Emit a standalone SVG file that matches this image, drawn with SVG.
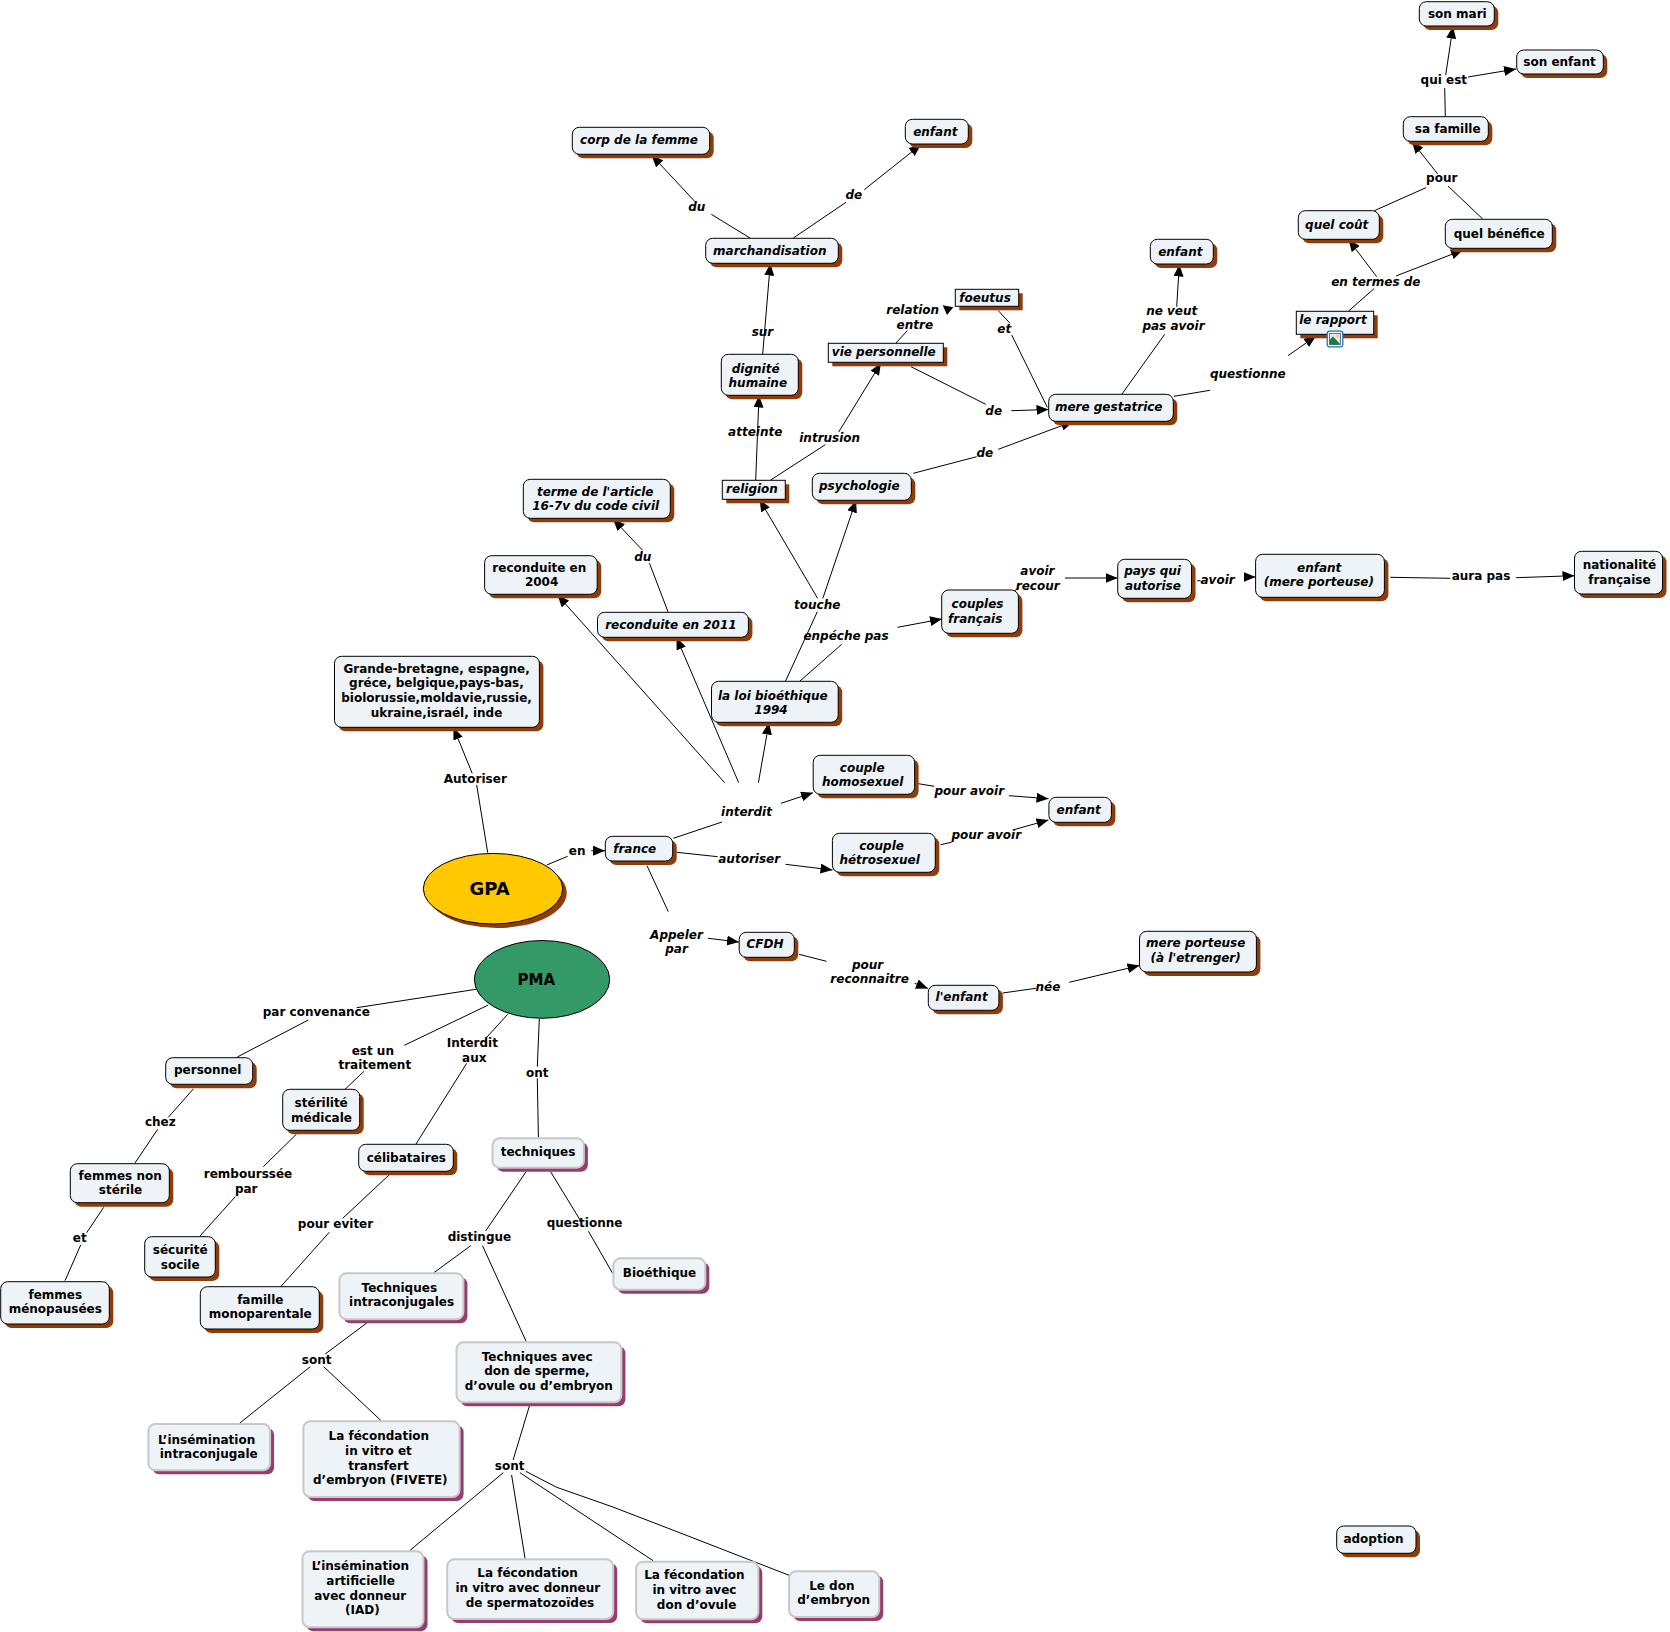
<svg xmlns="http://www.w3.org/2000/svg" width="1670" height="1632" viewBox="0 0 1670 1632">
<style>
text{font-family:"DejaVu Sans","Liberation Sans",sans-serif;font-size:12px;font-weight:bold;text-anchor:middle;fill:#000;transform:translateY(-.3px)}
#labels text{transform:none}
.i{font-style:italic}
.bx{fill:#edf3f6;stroke:#000;stroke-width:1}
.pb{fill:#edf3f6;stroke:#c8c8c8;stroke-width:2}
.sh{fill:#8f3c0a}
.ps{fill:#963c6e}
.r{rx:7px;ry:7px}
#connectors line,#connectors polyline{stroke:#000;stroke-width:1;fill:none}
.a{marker-end:url(#ah)}
</style>
<defs><marker id="ah" viewBox="0 0 12 10" refX="12" refY="5" markerWidth="12" markerHeight="10" markerUnits="userSpaceOnUse" orient="auto"><path d="M0 0L12 5L0 10Z" fill="#000"/></marker></defs>
<g id="connectors">
<line x1="1445.3" y1="116" x2="1444.7" y2="88"/>
<line class="a" x1="1445.7" y1="75" x2="1453" y2="26.5"/>
<line class="a" x1="1468" y1="77" x2="1516" y2="69"/>
<line x1="1374.3" y1="210.7" x2="1426" y2="187.7"/>
<line x1="1482.7" y1="219" x2="1448" y2="186"/>
<line class="a" x1="1437.7" y1="174" x2="1412" y2="141.5"/>
<line x1="1348.3" y1="311.3" x2="1374" y2="288.7"/>
<line class="a" x1="1376.7" y1="276.7" x2="1348.5" y2="239.5"/>
<line class="a" x1="1396" y1="276" x2="1463" y2="250"/>
<line class="a" x1="1288" y1="355.7" x2="1316" y2="336"/>
<line x1="750" y1="238" x2="711.3" y2="214.3"/>
<line class="a" x1="695" y1="201.7" x2="651.5" y2="155"/>
<line x1="793.3" y1="238" x2="846" y2="202.3"/>
<line class="a" x1="864.3" y1="189.7" x2="921" y2="144.5"/>
<line class="a" x1="762.7" y1="354" x2="770.3" y2="263.5"/>
<line class="a" x1="755.7" y1="480" x2="759" y2="395.5"/>
<line x1="770.7" y1="480" x2="825.3" y2="444.7"/>
<line class="a" x1="838.7" y1="432" x2="881" y2="363"/>
<line x1="896" y1="343" x2="907.3" y2="330.7"/>
<polygon points="942.7,305.3 953.3,307.3 947,315" fill="#000"/>
<line x1="998.3" y1="310.7" x2="1010" y2="323.3"/>
<line x1="1011.7" y1="335" x2="1047.3" y2="407.3"/>
<line x1="911" y1="366.7" x2="985.7" y2="404.3"/>
<line class="a" x1="1011.3" y1="410.7" x2="1048.5" y2="409.5"/>
<line x1="1122" y1="394" x2="1164.7" y2="334.3"/>
<line class="a" x1="1176.7" y1="306.7" x2="1179.3" y2="264.5"/>
<line x1="1174" y1="396.3" x2="1210" y2="390.3"/>
<line x1="913.3" y1="473.3" x2="976.7" y2="456.7"/>
<line class="a" x1="998.3" y1="449.3" x2="1073" y2="421.5"/>
<line x1="668.1" y1="612" x2="649.5" y2="563.3"/>
<line class="a" x1="642.3" y1="550" x2="613" y2="519"/>
<line class="a" x1="724.6" y1="782.7" x2="557.5" y2="595"/>
<line class="a" x1="738.7" y1="782.7" x2="676.5" y2="637.5"/>
<line class="a" x1="758.4" y1="782.7" x2="769" y2="722.5"/>
<line x1="785.6" y1="681" x2="817.3" y2="611.7"/>
<line class="a" x1="822.8" y1="598.3" x2="856" y2="500.5"/>
<line class="a" x1="817.6" y1="598.3" x2="759.5" y2="499.5"/>
<line x1="800" y1="681" x2="841.7" y2="644.3"/>
<line class="a" x1="897.5" y1="627.3" x2="942" y2="619"/>
<line x1="487.7" y1="852.7" x2="476.7" y2="785"/>
<line class="a" x1="472.2" y1="773.3" x2="453.5" y2="727.5"/>
<line x1="673.3" y1="838.3" x2="722" y2="822"/>
<line class="a" x1="781" y1="803.3" x2="813" y2="792.7"/>
<line x1="918.3" y1="783.7" x2="934.2" y2="786.3"/>
<line class="a" x1="1008.9" y1="795.7" x2="1048.5" y2="798.7"/>
<line x1="940.5" y1="844.7" x2="951.6" y2="842.3"/>
<line class="a" x1="1015.2" y1="829.3" x2="1048.5" y2="820"/>
<line x1="676.7" y1="852.3" x2="717.7" y2="856.7"/>
<line class="a" x1="785.5" y1="864.3" x2="832.5" y2="870"/>
<line x1="647" y1="865.7" x2="668.3" y2="911.7"/>
<line class="a" x1="708" y1="938.3" x2="739" y2="942"/>
<line x1="546.7" y1="865" x2="567.7" y2="856.3"/>
<line class="a" x1="591.3" y1="850.7" x2="605" y2="850.7"/>
<line x1="799.1" y1="954.3" x2="826.5" y2="961.3"/>
<line class="a" x1="914.6" y1="983.3" x2="928" y2="988.5"/>
<line x1="1002.6" y1="993" x2="1035.9" y2="988.3"/>
<line class="a" x1="1069.2" y1="982.3" x2="1139.5" y2="965.5"/>
<line x1="1014.4" y1="590.7" x2="1018.9" y2="588.3"/>
<line class="a" x1="1065" y1="578" x2="1117.7" y2="578"/>
<line x1="1197.2" y1="580.7" x2="1200.6" y2="580.7"/>
<line class="a" x1="1244.2" y1="577" x2="1255.6" y2="577"/>
<line x1="1390.2" y1="577.3" x2="1450.3" y2="578.3"/>
<line class="a" x1="1516.1" y1="577.7" x2="1574.5" y2="575.7"/>
<line x1="476" y1="989.3" x2="356.7" y2="1007.7"/>
<line x1="308.3" y1="1020" x2="237.3" y2="1057"/>
<line x1="488.3" y1="1005" x2="404.3" y2="1045.3"/>
<line x1="364" y1="1071.3" x2="345" y2="1089.3"/>
<line x1="507.7" y1="1014.3" x2="486.7" y2="1037.3"/>
<line x1="466.7" y1="1063.3" x2="416" y2="1144"/>
<line x1="539.3" y1="1019" x2="537.3" y2="1066.7"/>
<line x1="537.3" y1="1078.3" x2="538.4" y2="1137.7"/>
<line x1="193.3" y1="1089" x2="168.3" y2="1117.3"/>
<line x1="157.7" y1="1129.3" x2="135" y2="1163"/>
<line x1="103.7" y1="1207.3" x2="86.7" y2="1232.7"/>
<line x1="80.7" y1="1245" x2="65" y2="1280.7"/>
<line x1="296.3" y1="1134.3" x2="263.3" y2="1166.7"/>
<line x1="235.3" y1="1196.7" x2="200" y2="1236"/>
<line x1="388.7" y1="1175.3" x2="342.7" y2="1218.3"/>
<line x1="329.3" y1="1232.3" x2="281.3" y2="1286"/>
<line x1="526.1" y1="1171.7" x2="485.6" y2="1231"/>
<line x1="470.7" y1="1245.7" x2="433.9" y2="1272.7"/>
<line x1="482.5" y1="1245.7" x2="526.1" y2="1341.3"/>
<line x1="550.6" y1="1171.7" x2="580.1" y2="1220"/>
<line x1="588.5" y1="1231.3" x2="612.6" y2="1273.3"/>
<line x1="368.5" y1="1321.7" x2="325.2" y2="1354"/>
<line x1="310.3" y1="1366.7" x2="239.5" y2="1423.3"/>
<line x1="323.7" y1="1366.7" x2="381.1" y2="1420.7"/>
<line x1="529.6" y1="1405.3" x2="513.1" y2="1460"/>
<line x1="503.3" y1="1472.7" x2="409.6" y2="1550.7"/>
<line x1="511.6" y1="1475" x2="525.1" y2="1558.7"/>
<line x1="519.9" y1="1472.7" x2="653.1" y2="1560.7"/>
<polyline points="525.8,1471.3 556.7,1487.3 612,1506.7 675.3,1531 789.1,1575.3"/>
</g>
<g id="n-son-mari"><rect class="sh r" x="1423.3" y="5.7" width="75" height="24.3"/><rect class="bx r" x="1419.3" y="1.7" width="75" height="24.3"/><text x="1457.3" y="18.5">son mari</text></g>
<g id="n-son-enfant"><rect class="sh r" x="1520.7" y="54" width="86.6" height="24"/><rect class="bx r" x="1516.7" y="50" width="86.6" height="24"/><text x="1559.5" y="66.5">son enfant</text></g>
<g id="n-sa-famille"><rect class="sh r" x="1407.3" y="120.7" width="85" height="24.6"/><rect class="bx r" x="1403.3" y="116.7" width="85" height="24.6"/><text x="1447.7" y="133.5">sa famille</text></g>
<g id="n-quel-cout"><rect class="sh r" x="1302.3" y="214.7" width="81" height="28.6"/><rect class="bx r" x="1298.3" y="210.7" width="81" height="28.6"/><text class="i" x="1336.7" y="229.5">quel coût</text></g>
<g id="n-quel-benefice"><rect class="sh r" x="1449.3" y="223.3" width="107" height="29"/><rect class="bx r" x="1445.3" y="219.3" width="107" height="29"/><text x="1499.2" y="238.5">quel bénéfice</text></g>
<g id="n-le-rapport"><rect class="sh" x="1300.3" y="315.3" width="77.4" height="23"/><rect class="bx" x="1296.3" y="311.3" width="77.4" height="23"/><text class="i" x="1333" y="324.5">le rapport</text>
<rect x="1327.2" y="331.2" width="15.6" height="15.6" rx="2.5" fill="#fff" stroke="#1f6fd0" stroke-width="1.3"/><rect x="1329.5" y="333.5" width="11" height="11" fill="#dcebf7" stroke="#33424f" stroke-width=".7"/><circle cx="1337.5" cy="336" r="1.4" fill="#f5d33a"/><polygon points="1329.5,344.5 1329.5,340 1333,336.5 1340.5,344.5" fill="#1f7a34"/></g>
<g id="n-corp"><rect class="sh r" x="576.3" y="131.3" width="137.4" height="27"/><rect class="bx r" x="572.3" y="127.3" width="137.4" height="27"/><text class="i" x="639" y="144.5">corp de la femme</text></g>
<g id="n-enfant-1"><rect class="sh r" x="909.3" y="123.3" width="63" height="24.7"/><rect class="bx r" x="905.3" y="119.3" width="63" height="24.7"/><text class="i" x="935.3" y="136.5">enfant</text></g>
<g id="n-marchandisation"><rect class="sh r" x="709.7" y="242.3" width="132.6" height="25"/><rect class="bx r" x="705.7" y="238.3" width="132.6" height="25"/><text class="i" x="769.8" y="255.5">marchandisation</text></g>
<g id="n-dignite"><rect class="sh r" x="725.3" y="358.3" width="77" height="41"/><rect class="bx r" x="721.3" y="354.3" width="77" height="41"/><text class="i"><tspan x="755.7" y="373">dignité</tspan><tspan x="757.8" y="387.5">humaine</tspan></text></g>
<g id="n-vie"><rect class="sh" x="832.3" y="347.3" width="115" height="19"/><rect class="bx" x="828.3" y="343.3" width="115" height="19"/><text class="i" x="883.8" y="356.5">vie personnelle</text></g>
<g id="n-religion"><rect class="sh" x="726.3" y="484.3" width="63" height="19"/><rect class="bx" x="722.3" y="480.3" width="63" height="19"/><text class="i" x="752" y="493.5">religion</text></g>
<g id="n-psychologie"><rect class="sh r" x="816.3" y="477.3" width="99" height="27"/><rect class="bx r" x="812.3" y="473.3" width="99" height="27"/><text class="i" x="859.3" y="490.5">psychologie</text></g>
<g id="n-terme"><rect class="sh r" x="527.3" y="483.3" width="147" height="39"/><rect class="bx r" x="523.3" y="479.3" width="147" height="39"/><text class="i"><tspan x="595.2" y="496">terme de l'article</tspan><tspan x="595.7" y="510.5">16-7v du code civil</tspan></text></g>
<g id="n-foeutus"><rect class="sh" x="959.3" y="293.3" width="63.4" height="17"/><rect class="bx" x="955.3" y="289.3" width="63.4" height="17"/><text class="i" x="985" y="302.5">foeutus</text></g>
<g id="n-enfant-2"><rect class="sh r" x="1154.3" y="243.3" width="63" height="24.7"/><rect class="bx r" x="1150.3" y="239.3" width="63" height="24.7"/><text class="i" x="1180.3" y="256.5">enfant</text></g>
<g id="n-mere-gestatrice"><rect class="sh r" x="1052.7" y="398.3" width="124.6" height="27"/><rect class="bx r" x="1048.7" y="394.3" width="124.6" height="27"/><text class="i" x="1108.7" y="411.5">mere gestatrice</text></g>
<g id="n-reconduite-2004"><rect class="sh r" x="488.6" y="559.7" width="112.6" height="38.6"/><rect class="bx r" x="484.6" y="555.7" width="112.6" height="38.6"/><text><tspan x="539.3" y="572">reconduite en</tspan><tspan x="541.6" y="586.7">2004</tspan></text></g>
<g id="n-reconduite-2011"><rect class="sh r" x="601.5" y="616.3" width="150.9" height="25"/><rect class="bx r" x="597.5" y="612.3" width="150.9" height="25"/><text class="i" x="670.9" y="629">reconduite en 2011</text></g>
<g id="n-grande"><rect class="sh r" x="338.5" y="660.3" width="204.9" height="71"/><rect class="bx r" x="334.5" y="656.3" width="204.9" height="71"/><text><tspan x="436.6" y="673">Grande-bretagne, espagne,</tspan><tspan x="436.4" y="687.7">gréce, belgique,pays-bas,</tspan><tspan x="436.6" y="702.3">biolorussie,moldavie,russie,</tspan><tspan x="436.6" y="717">ukraine,israél, inde</tspan></text></g>
<g id="n-loi"><rect class="sh r" x="715.5" y="685.3" width="126.7" height="41"/><rect class="bx r" x="711.5" y="681.3" width="126.7" height="41"/><text class="i"><tspan x="772.8" y="700">la loi bioéthique</tspan><tspan x="771" y="714.3">1994</tspan></text></g>
<g id="n-couples-francais"><rect class="sh r" x="945.7" y="594" width="76.7" height="43.3"/><rect class="bx r" x="941.7" y="590" width="76.7" height="43.3"/><text class="i"><tspan x="977.5" y="608.3">couples</tspan><tspan x="975.2" y="623">français</tspan></text></g>
<g id="n-pays"><rect class="sh r" x="1121.7" y="563.3" width="73.8" height="39"/><rect class="bx r" x="1117.7" y="559.3" width="73.8" height="39"/><text class="i"><tspan x="1152.6" y="575.7">pays qui</tspan><tspan x="1152.9" y="590">autorise</tspan></text></g>
<g id="n-enfant-mere"><rect class="sh r" x="1259.6" y="558.3" width="128.8" height="43"/><rect class="bx r" x="1255.6" y="554.3" width="128.8" height="43"/><text class="i"><tspan x="1319.2" y="572">enfant</tspan><tspan x="1318.8" y="586.7">(mere porteuse)</tspan></text></g>
<g id="n-nationalite"><rect class="sh r" x="1578.5" y="555.3" width="88" height="42.7"/><rect class="bx r" x="1574.5" y="551.3" width="88" height="42.7"/><text><tspan x="1619.4" y="569.7">nationalité</tspan><tspan x="1619.4" y="584">française</tspan></text></g>
<g id="n-couple-homo"><rect class="sh r" x="817.2" y="759.3" width="101.4" height="39"/><rect class="bx r" x="813.2" y="755.3" width="101.4" height="39"/><text class="i"><tspan x="862.2" y="772">couple</tspan><tspan x="862.6" y="786.3">homosexuel</tspan></text></g>
<g id="n-enfant-3"><rect class="sh r" x="1052.9" y="801.3" width="62.5" height="25"/><rect class="bx r" x="1048.9" y="797.3" width="62.5" height="25"/><text class="i" x="1078.7" y="814">enfant</text></g>
<g id="n-couple-hetero"><rect class="sh r" x="836.4" y="837.3" width="102.9" height="39"/><rect class="bx r" x="832.4" y="833.3" width="102.9" height="39"/><text class="i"><tspan x="881.6" y="850">couple</tspan><tspan x="879.6" y="864.3">hétrosexuel</tspan></text></g>
<g id="n-cfdh"><rect class="sh r" x="743.2" y="936.3" width="55.1" height="25"/><rect class="bx r" x="739.2" y="932.3" width="55.1" height="25"/><text class="i" x="765" y="948.7">CFDH</text></g>
<g id="n-lenfant"><rect class="sh r" x="932.3" y="989.3" width="70.6" height="25"/><rect class="bx r" x="928.3" y="985.3" width="70.6" height="25"/><text class="i" x="961.6" y="1001.7">l'enfant</text></g>
<g id="n-mere-porteuse"><rect class="sh r" x="1143.5" y="935.3" width="116.9" height="40.7"/><rect class="bx r" x="1139.5" y="931.3" width="116.9" height="40.7"/><text class="i"><tspan x="1195.7" y="947.3">mere porteuse</tspan><tspan x="1195.7" y="962">(à l'etrenger)</tspan></text></g>
<g id="n-france"><rect class="sh r" x="609.3" y="840.3" width="67.4" height="24.7"/><rect class="bx r" x="605.3" y="836.3" width="67.4" height="24.7"/><text class="i" x="634.7" y="853.3">france</text></g>
<g id="n-gpa"><ellipse class="sh" cx="497" cy="892.7" rx="69.7" ry="35.3"/><ellipse cx="493" cy="888.7" rx="69.7" ry="35.3" fill="#ffc800" stroke="#000"/><text x="489.5" y="895" style="font-size:18px">GPA</text></g>
<g id="n-pma"><ellipse cx="542" cy="979.4" rx="67.7" ry="38.9" fill="#339966" stroke="#000"/><text x="536.3" y="985.3" style="font-size:15px">PMA</text></g>
<g id="n-personnel"><rect class="sh r" x="169.7" y="1061.7" width="87" height="26.6"/><rect class="bx r" x="165.7" y="1057.7" width="87" height="26.6"/><text x="207.7" y="1074.3">personnel</text></g>
<g id="n-sterilite"><rect class="sh r" x="286.7" y="1093.3" width="77" height="41"/><rect class="bx r" x="282.7" y="1089.3" width="77" height="41"/><text><tspan x="321.2" y="1107.7">stérilité</tspan><tspan x="321.5" y="1122.3">médicale</tspan></text></g>
<g id="n-femmes-non"><rect class="sh r" x="74.3" y="1167.7" width="99" height="39"/><rect class="bx r" x="70.3" y="1163.7" width="99" height="39"/><text><tspan x="120.2" y="1180">femmes non</tspan><tspan x="120.5" y="1194.7">stérile</tspan></text></g>
<g id="n-celibataires"><rect class="sh r" x="362.7" y="1148.3" width="94.6" height="27"/><rect class="bx r" x="358.7" y="1144.3" width="94.6" height="27"/><text x="406.3" y="1162.7">célibataires</text></g>
<g id="n-securite"><rect class="sh r" x="148.7" y="1240.7" width="70.6" height="40.3"/><rect class="bx r" x="144.7" y="1236.7" width="70.6" height="40.3"/><text><tspan x="180.2" y="1254.7">sécurité</tspan><tspan x="180.2" y="1269.3">socile</tspan></text></g>
<g id="n-menopausees"><rect class="sh r" x="4.7" y="1285.7" width="108.6" height="42.3"/><rect class="bx r" x=".7" y="1281.7" width="108.6" height="42.3"/><text><tspan x="55.3" y="1299">femmes</tspan><tspan x="55.3" y="1313.7">ménopausées</tspan></text></g>
<g id="n-famille"><rect class="sh r" x="204.3" y="1290.7" width="119" height="42.3"/><rect class="bx r" x="200.3" y="1286.7" width="119" height="42.3"/><text><tspan x="260.3" y="1304">famille</tspan><tspan x="260.3" y="1318.7">monoparentale</tspan></text></g>
<g id="n-techniques"><rect class="ps r" x="496.5" y="1142.3" width="91.4" height="29.4"/><rect class="pb r" x="492.5" y="1138.3" width="91.4" height="29.4"/><text x="538" y="1156">techniques</text></g>
<g id="n-bioethique"><rect class="ps r" x="617.4" y="1262.3" width="91.9" height="31.4"/><rect class="pb r" x="613.4" y="1258.3" width="91.9" height="31.4"/><text x="659.5" y="1277.7">Bioéthique</text></g>
<g id="n-t-intra"><rect class="ps r" x="343.4" y="1277.3" width="124" height="46"/><rect class="pb r" x="339.4" y="1273.3" width="124" height="46"/><text><tspan x="399.3" y="1292">Techniques</tspan><tspan x="401.6" y="1306.7">intraconjugales</tspan></text></g>
<g id="n-t-avec"><rect class="ps r" x="460.5" y="1346.3" width="164.9" height="60"/><rect class="pb r" x="456.5" y="1342.3" width="164.9" height="60"/><text><tspan x="537.2" y="1361">Techniques avec</tspan><tspan x="536.9" y="1375.7">don de sperme,</tspan><tspan x="538.8" y="1390.3">d’ovule ou d’embryon</tspan></text></g>
<g id="n-ins-intra"><rect class="ps r" x="152.4" y="1428" width="121.7" height="46.3"/><rect class="pb r" x="148.4" y="1424" width="121.7" height="46.3"/><text><tspan x="206.6" y="1444">L’insémination</tspan><tspan x="208.7" y="1458.3">intraconjugale</tspan></text></g>
<g id="n-fivete"><rect class="ps r" x="307.4" y="1425.3" width="156.2" height="75.7"/><rect class="pb r" x="303.4" y="1421.3" width="156.2" height="75.7"/><text><tspan x="378.8" y="1440.7">La fécondation</tspan><tspan x="378.4" y="1455.3">in vitro et</tspan><tspan x="378.4" y="1470">transfert</tspan><tspan x="380.3" y="1484.7">d’embryon (FIVETE)</tspan></text></g>
<g id="n-iad"><rect class="ps r" x="306.5" y="1555.3" width="121" height="76"/><rect class="pb r" x="302.5" y="1551.3" width="121" height="76"/><text><tspan x="360.4" y="1570.7">L’insémination</tspan><tspan x="360.6" y="1585.3">artificielle</tspan><tspan x="360.2" y="1600">avec donneur</tspan><tspan x="362.4" y="1614.7">(IAD)</tspan></text></g>
<g id="n-sperme"><rect class="ps r" x="451.2" y="1563.3" width="166" height="59.7"/><rect class="pb r" x="447.2" y="1559.3" width="166" height="59.7"/><text><tspan x="527.6" y="1577.7">La fécondation</tspan><tspan x="527.8" y="1592.3">in vitro avec donneur</tspan><tspan x="530" y="1607">de spermatozoïdes</tspan></text></g>
<g id="n-ovule"><rect class="ps r" x="640.1" y="1565.7" width="122.2" height="57.6"/><rect class="pb r" x="636.1" y="1561.7" width="122.2" height="57.6"/><text><tspan x="694.4" y="1579.7">La fécondation</tspan><tspan x="694.4" y="1594.3">in vitro avec</tspan><tspan x="696.6" y="1609">don d’ovule</tspan></text></g>
<g id="n-don-embryon"><rect class="ps r" x="793.1" y="1575.3" width="90.1" height="45.7"/><rect class="pb r" x="789.1" y="1571.3" width="90.1" height="45.7"/><text><tspan x="831.8" y="1590">Le don</tspan><tspan x="833.7" y="1604.7">d’embryon</tspan></text></g>
<g id="n-adoption"><rect class="sh r" x="1340.7" y="1530" width="79.3" height="27.3"/><rect class="bx r" x="1336.7" y="1526" width="79.3" height="27.3"/><text x="1373.5" y="1543">adoption</text></g>
<g id="labels">
<text x="1443.8" y="84.3">qui est</text>
<text x="1441.7" y="182">pour</text>
<text class="i" x="1375.8" y="286">en termes de</text>
<text class="i" x="1247.8" y="378">questionne</text>
<text class="i" x="696.8" y="211">du</text>
<text class="i" x="853.8" y="199">de</text>
<text class="i" x="762.5" y="335.7">sur</text>
<text class="i" x="755.2" y="436">atteinte</text>
<text class="i" x="829.7" y="442">intrusion</text>
<text class="i"><tspan x="912.7" y="314">relation</tspan><tspan x="914.8" y="328.7">entre</tspan></text>
<text class="i" x="1004.2" y="333.3">et</text>
<text class="i" x="993.7" y="415">de</text>
<text class="i" x="984.8" y="456.7">de</text>
<text class="i"><tspan x="1171.7" y="315.3">ne veut</tspan><tspan x="1173.5" y="330">pas avoir</tspan></text>
<text class="i" x="642.8" y="561">du</text>
<text class="i" x="817.2" y="609">touche</text>
<text class="i" x="846" y="640">enpéche pas</text>
<text x="475.3" y="783">Autoriser</text>
<text class="i" x="746.5" y="816">interdit</text>
<text class="i" x="749.2" y="863">autoriser</text>
<text x="577.2" y="855">en</text>
<text class="i"><tspan x="676.5" y="938.7">Appeler</tspan><tspan x="676.5" y="953.3">par</tspan></text>
<text class="i"><tspan x="1037.4" y="575">avoir</tspan><tspan x="1037.7" y="589.7">recour</tspan></text>
<text class="i" x="1217.6" y="584">avoir</text>
<text x="1481" y="579.7">aura pas</text>
<text class="i" x="969.3" y="795">pour avoir</text>
<text class="i" x="986.3" y="839.3">pour avoir</text>
<text class="i"><tspan x="867.6" y="969">pour</tspan><tspan x="869.6" y="983.3">reconnaitre</tspan></text>
<text class="i" x="1048" y="990.7">née</text>
<text x="316.3" y="1015.7">par convenance</text>
<text><tspan x="372.8" y="1054.7">est un</tspan><tspan x="374.8" y="1069">traitement</tspan></text>
<text><tspan x="472.3" y="1047">Interdit</tspan><tspan x="474.3" y="1061.7">aux</tspan></text>
<text x="537.3" y="1076.7">ont</text>
<text x="160.3" y="1126">chez</text>
<text x="79.7" y="1242.3">et</text>
<text><tspan x="248" y="1177.7">rembourssée</tspan><tspan x="246.2" y="1192.7">par</tspan></text>
<text x="335.5" y="1228.3">pour eviter</text>
<text x="479.4" y="1241">distingue</text>
<text x="584.5" y="1227">questionne</text>
<text x="316.6" y="1364.3">sont</text>
<text x="509.7" y="1469.7">sont</text>
</g>
</svg>
